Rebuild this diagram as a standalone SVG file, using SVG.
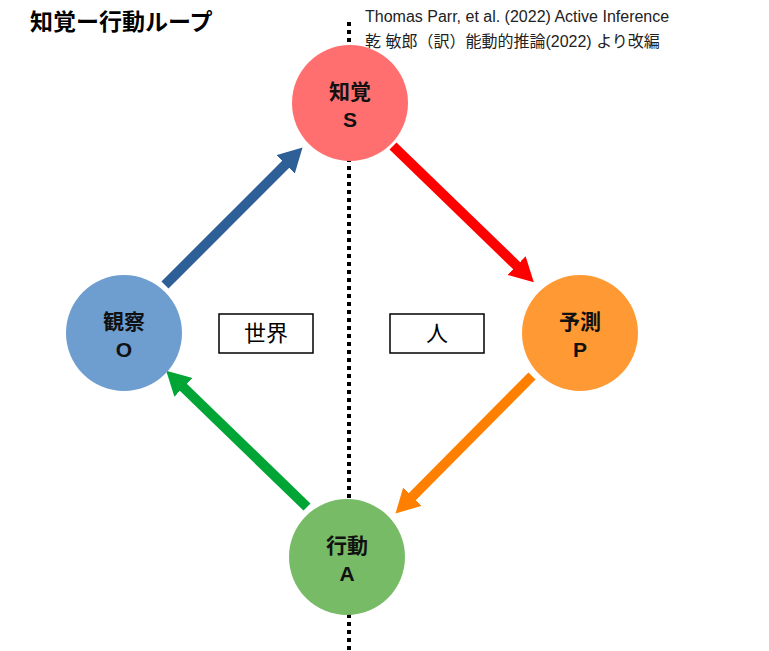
<svg xmlns="http://www.w3.org/2000/svg" width="769" height="651" viewBox="0 0 769 651">
<style>
.t{font-family:"Liberation Sans","Noto Sans CJK JP",sans-serif;}
.n{font-size:21px;font-weight:bold;text-anchor:middle;fill:#111;}
.b{font-size:22px;text-anchor:middle;fill:#000;}
.a{stroke-width:10;fill:none;}
</style>
<defs>
<marker id="mb" markerUnits="userSpaceOnUse" markerWidth="30" markerHeight="30" refX="2" refY="13" orient="auto"><polygon points="0,0 24,13 0,26" fill="#2E5F96"/></marker>
<marker id="mr" markerUnits="userSpaceOnUse" markerWidth="30" markerHeight="30" refX="2" refY="13" orient="auto"><polygon points="0,0 24,13 0,26" fill="#FF0000"/></marker>
<marker id="mo" markerUnits="userSpaceOnUse" markerWidth="30" markerHeight="30" refX="2" refY="13" orient="auto"><polygon points="0,0 24,13 0,26" fill="#FF8000"/></marker>
<marker id="mg" markerUnits="userSpaceOnUse" markerWidth="30" markerHeight="30" refX="2" refY="13" orient="auto"><polygon points="0,0 24,13 0,26" fill="#00A535"/></marker>
</defs>
<rect width="769" height="651" fill="#fff"/>
<line x1="349" y1="22" x2="349" y2="651" stroke="#000" stroke-width="4" stroke-dasharray="4,4"/>
<text class="t" x="30" y="30" font-size="23" font-weight="bold">知覚ー行動ループ</text>
<text class="t" x="365" y="22" font-size="16" fill="#222">Thomas Parr, et al. (2022) Active Inference</text>
<text class="t" x="365" y="47" font-size="16" fill="#222">乾 敏郎（訳）能動的推論(2022) より改編</text>
<g id="connectors">
<line class="a" x1="165" y1="285" x2="287" y2="163" stroke="#2E5F96" marker-end="url(#mb)"/>
<line class="a" x1="393" y1="146" x2="518" y2="267" stroke="#FF0000" marker-end="url(#mr)"/>
<line class="a" x1="532" y1="376" x2="411" y2="498" stroke="#FF8000" marker-end="url(#mo)"/>
<line class="a" x1="307" y1="507" x2="182" y2="386" stroke="#00A535" marker-end="url(#mg)"/>
</g>
<g id="S"><circle cx="350" cy="103" r="58" fill="#FF6F6F"/><text class="t n" x="350" y="99">知覚</text><text class="t n" x="350" y="127">S</text></g>
<g id="P"><circle cx="580" cy="333" r="58" fill="#FF9933"/><text class="t n" x="580" y="329">予測</text><text class="t n" x="580" y="357">P</text></g>
<g id="O"><circle cx="124" cy="333" r="58" fill="#6E9ECF"/><text class="t n" x="124" y="329">観察</text><text class="t n" x="124" y="357">O</text></g>
<g id="A"><circle cx="347" cy="557" r="58" fill="#77BB66"/><text class="t n" x="347" y="553">行動</text><text class="t n" x="347" y="581">A</text></g>
<g id="world"><rect x="219" y="314" width="94" height="39" fill="#fff" stroke="#000" stroke-width="1.5"/><text class="t b" x="266" y="341">世界</text></g>
<g id="human"><rect x="390" y="314" width="94" height="39" fill="#fff" stroke="#000" stroke-width="1.5"/><text class="t b" x="437" y="341">人</text></g>
</svg>
